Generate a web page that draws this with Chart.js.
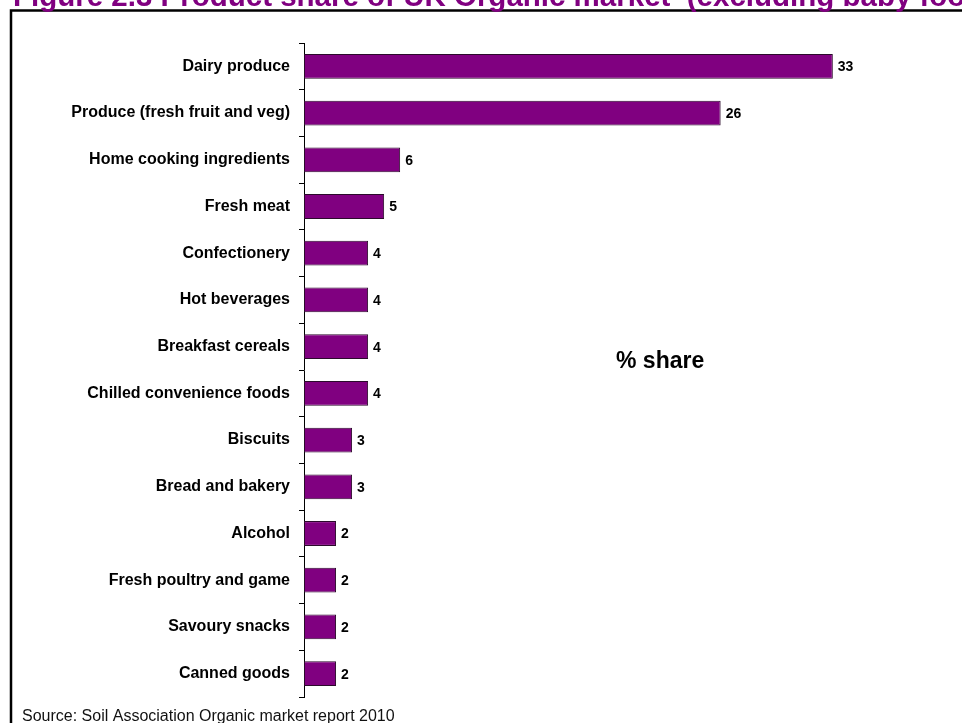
<!DOCTYPE html>
<html>
<head>
<meta charset="utf-8">
<script src="https://cdn.jsdelivr.net/npm/chart.js@4.4.0/dist/chart.umd.min.js"></script>
<style>
  html, body { margin: 0; padding: 0; background: #fff; overflow: hidden; }
  #wrap { position: relative; width: 962px; height: 723px; }
</style>
</head>
<body>
<div id="wrap"><canvas id="sharechart"></canvas></div>
<script>
// product categories, top to bottom
const categories = [
  "Dairy produce",
  "Produce (fresh fruit and veg)",
  "Home cooking ingredients",
  "Fresh meat",
  "Confectionery",
  "Hot beverages",
  "Breakfast cereals",
  "Chilled convenience foods",
  "Biscuits",
  "Bread and bakery",
  "Alcohol",
  "Fresh poultry and game",
  "Savoury snacks",
  "Canned goods",
];
// % share of the organic market
const shareValues = [33, 26, 6, 5, 4, 4, 4, 4, 3, 3, 2, 2, 2, 2];

const titleText = "Figure 2.3 Product share of UK Organic market  (excluding baby food)";
const sourceText = "Source: Soil Association Organic market report 2010";
const seriesLabel = "% share";

const FONT = "Arial, 'Liberation Sans', sans-serif";

// frame, title, source line and the "% share" note
const decorPlugin = {
  id: "decor",
  beforeDraw(chart) {
    const { ctx } = chart;
    ctx.save();
    ctx.fillStyle = "#fff";
    ctx.fillRect(0, 0, chart.width, chart.height);
    ctx.strokeStyle = "#000";
    ctx.lineWidth = 2.5;
    ctx.strokeRect(11, 10.5, 1000, 800);
    ctx.restore();
  },
  afterDraw(chart) {
    const { ctx } = chart;
    ctx.save();
    ctx.textBaseline = "alphabetic";
    ctx.textAlign = "left";
    ctx.fillStyle = "#800080";
    ctx.font = "bold 29.5px " + FONT;
    ctx.fillText(titleText, 13, 6);

    ctx.fillStyle = "#000";
    ctx.font = "bold 23px " + FONT;
    ctx.fillText(seriesLabel, 616, 368);

    ctx.fillStyle = "#111";
    ctx.font = "16px " + FONT;
    ctx.fillText(sourceText, 22, 721);
    ctx.restore();
  },
};

// value at the end of each bar
const valueLabels = {
  id: "valueLabels",
  afterDatasetsDraw(chart) {
    const { ctx } = chart;
    const meta = chart.getDatasetMeta(0);
    ctx.save();
    ctx.fillStyle = "#000";
    ctx.font = "bold 14px " + FONT;
    ctx.textAlign = "left";
    ctx.textBaseline = "middle";
    meta.data.forEach((bar, i) => {
      ctx.fillText(String(shareValues[i]), bar.x + 5, bar.y + 1);
    });
    ctx.restore();
  },
};

const ctx = document.getElementById("sharechart").getContext("2d");

new Chart(ctx, {
  type: "bar",
  data: {
    labels: categories,
    datasets: [
      {
        label: seriesLabel,
        data: shareValues,
        backgroundColor: "#800080",
        borderColor: "#2b0a2b",
        borderWidth: 1,
        borderSkipped: false,
        categoryPercentage: 1,
        barPercentage: 0.53,
      },
    ],
  },
  options: {
    indexAxis: "y",
    responsive: true,
    maintainAspectRatio: false,
    animation: false,
    layout: {
      padding: { top: 43, bottom: 26, left: 0, right: 17 },
    },
    plugins: {
      legend: { display: false },
      tooltip: { enabled: false },
    },
    scales: {
      x: {
        display: false,
        min: 0,
        max: 40,
      },
      y: {
        afterFit(scale) {
          scale.width = 304;
        },
        border: { display: true, color: "#000", width: 1 },
        grid: {
          offset: true,
          drawOnChartArea: false,
          drawTicks: true,
          tickLength: 5,
          color: "#000",
        },
        ticks: {
          color: "#000",
          padding: 9,
          font: { size: 16, weight: "bold", family: FONT },
        },
      },
    },
  },
  plugins: [decorPlugin, valueLabels],
});
</script>
</body>
</html>
